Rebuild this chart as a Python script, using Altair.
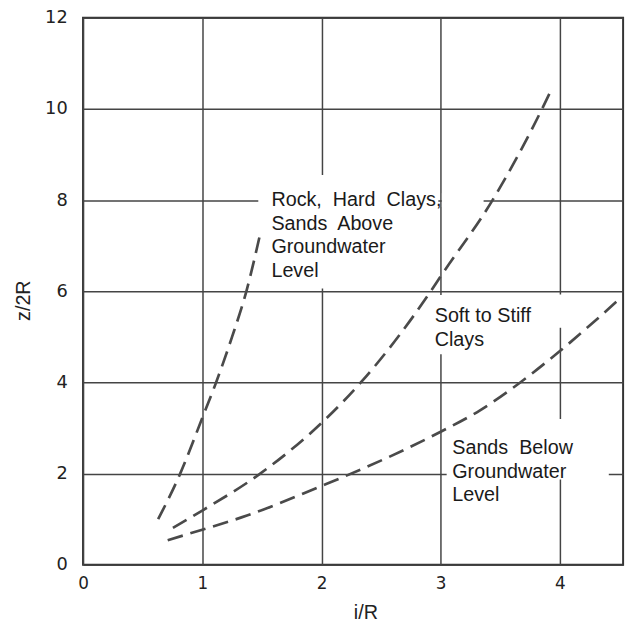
import altair as alt
import pandas as pd

# Curves (i/R, z/2R)
rock_x = [0.63, 0.815, 1.0, 1.116, 1.25, 1.37, 1.485]
rock_y = [1.0, 2.0, 3.22, 4.0, 5.0, 6.0, 7.25]
soft_x = [0.754, 1.0, 1.486, 2.04, 2.33, 2.916, 3.0, 3.435, 3.85, 3.935]
soft_y = [0.81, 1.19, 2.0, 3.21, 4.0, 6.0, 6.33, 8.0, 10.0, 10.46]
sand_x = [0.71, 1.0, 1.375, 2.0, 2.204, 3.0, 3.33, 3.667, 4.0, 4.52]
sand_y = [0.54, 0.77, 1.08, 1.73, 1.95, 2.92, 3.39, 4.0, 4.69, 5.88]

# Annotation labels (anchor = centre of first line)
label_text = [
    "Rock,\u00a0 Hard\u00a0 Clays,\nSands\u00a0 Above\nGroundwater\nLevel",
    "Soft to Stiff\nClays",
    "Sands\u00a0 Below\nGroundwater\nLevel",
]
label_x = [1.58, 2.95, 3.097]
label_y = [8.0, 5.46, 2.56]

# White patches that interrupt the grid around the labels
box_x1 = [1.47, 2.93, 3.05, 3.01, 3.96]
box_x2 = [2.98, 3.85, 4.41, 3.36, 4.04]
box_y1 = [6.06, 4.62, 1.87, 7.85, 5.2]
box_y2 = [8.55, 5.92, 3.2, 8.15, 5.93]

x_ticks = [0, 1, 2, 3, 4]
y_ticks = [0, 2, 4, 6, 8, 10, 12]

rows = []
for name, xv, yv in [("rock", rock_x, rock_y), ("soft", soft_x, soft_y), ("sand", sand_x, sand_y)]:
    for a, b in zip(xv, yv):
        rows.append({"series": name, "x": a, "y": b})
curves = pd.DataFrame(rows)
labels = pd.DataFrame({"label": label_text, "x": label_x, "y": label_y})
boxes = pd.DataFrame({"x": box_x1, "x2": box_x2, "y": box_y1, "y2": box_y2})

xs = alt.Scale(domain=[0, 4.53], nice=False, zero=False)
ys = alt.Scale(domain=[0, 12], nice=False, zero=False)

x_axis = alt.Axis(
    values=x_ticks, title="i/R", grid=True, ticks=False, domain=False,
    labelFont="DejaVu Sans", labelFontSize=17, labelPadding=11, labelColor="#222",
    labelFlush=False, labelOverlap=False,
    gridColor="#444", gridWidth=1.5,
    titleFont="Liberation Sans", titleFontSize=20, titleFontWeight="normal",
    titleColor="#222", titleX=286, titleY=48, titleBaseline="middle",
)
y_axis = alt.Axis(
    values=y_ticks, title="z/2R", grid=True, ticks=False, domain=False,
    labelFont="DejaVu Sans", labelFontSize=18, labelPadding=16, labelColor="#222",
    labelFlush=False, labelOverlap=False, labelBaseline="middle",
    gridColor="#444", gridWidth=1.5,
    titleFont="Liberation Sans", titleFontSize=20, titleFontWeight="normal",
    titleColor="#222", titleX=-60, titleY=286, titleBaseline="middle",
    titleAlign="center", titleAngle=270,
)

X = alt.X("x:Q", scale=xs, axis=x_axis, title="i/R")
Y = alt.Y("y:Q", scale=ys, axis=y_axis, title="z/2R")

rects = alt.Chart(boxes).mark_rect(fill="white").encode(
    x=X, x2="x2:Q", y=Y, y2="y2:Q",
)

lines = alt.Chart(curves).mark_line(
    color="#4a4a4a", strokeWidth=2.7, strokeDash=[16, 8], interpolate="monotone"
).encode(x=X, y=Y, detail="series:N")

texts = alt.Chart(labels).mark_text(
    align="left", baseline="middle", font="Liberation Sans", fontSize=20,
    lineHeight=24, lineBreak="\n", color="#1a1a1a",
).encode(x=X, y=Y, text="label:N")

chart = alt.layer(rects, lines, texts).properties(
    width=547, height=554,
    autosize=alt.AutoSizeParams(type="none"),
    padding={"left": 76, "top": 6, "right": 8, "bottom": 55},
).configure(
    background="white",
    view=alt.ViewConfig(stroke="#333", strokeWidth=2),
)

chart.save("out.html", embed_options={"renderer": "svg", "actions": False})
